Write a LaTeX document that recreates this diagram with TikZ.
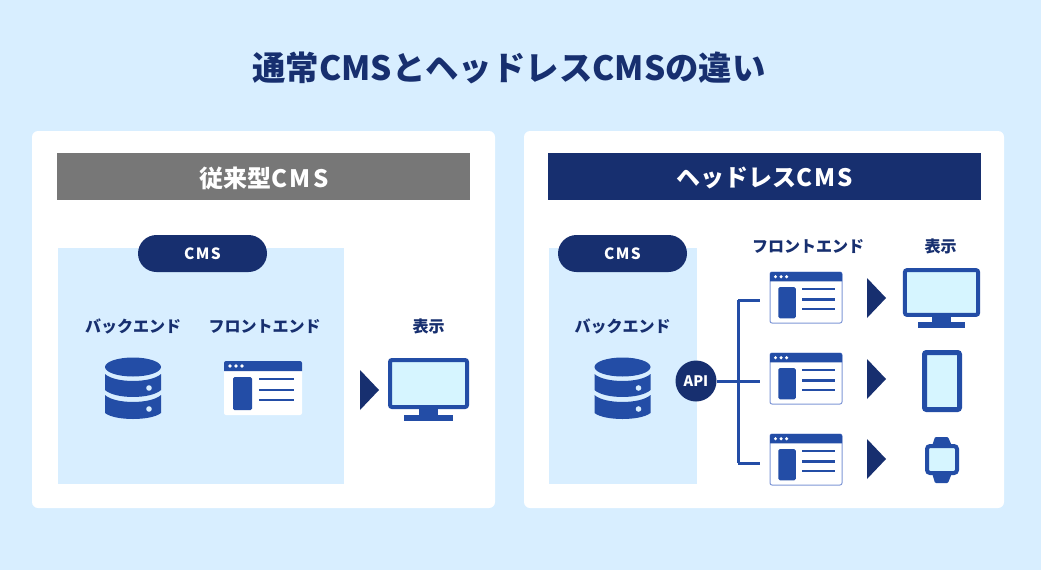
\documentclass[tikz,border=0pt]{standalone}
\usepackage{fontspec}
\setmainfont{Noto Sans CJK JP}
\definecolor{skyback}{HTML}{D8EEFF}
\definecolor{navy}{HTML}{172F6F}
\definecolor{iconblue}{HTML}{234DA6}
\definecolor{screenblue}{HTML}{D6F5FF}
\definecolor{framegray}{HTML}{777777}
\definecolor{frameblue}{HTML}{7F97D6}
\newcommand{\wideCMS}{{\addfontfeature{LetterSpace=9}CMS}}
\tikzset{
	card/.style = {fill=white, rounded corners=6pt, inner sep=0pt},
	header/.style = {inner sep=0pt, minimum height=47pt},
	headtext/.style = {text=white, inner sep=0pt, font=\bfseries\fontsize{24}{28}\selectfont},
	panel/.style = {fill=skyback, inner sep=0pt},
	pill/.style = {fill=navy, text=white, rounded corners=18.5pt, minimum width=129pt, minimum height=37pt, inner sep=0pt, font=\bfseries\fontsize{15.5}{18}\selectfont},
	label/.style = {text=navy, inner sep=0pt, font=\bfseries\fontsize{16}{18}\selectfont},
	frame/.style = {fill=white, rounded corners=2pt, inner sep=0pt},
	link/.style = {draw=iconblue, line width=3pt},
	pics/database/.style = {code={
		\fill[iconblue] (0,-21) ellipse [x radius=28, y radius=9.5];
		\fill[iconblue] (-28,-14) .. controls (-18,-4.7) and (18,-4.7) .. (28,-14) -- (28,2) .. controls (18,11.3) and (-18,11.3) .. (-28,2) -- cycle;
		\fill[iconblue] (-28,7) .. controls (-18,16.3) and (18,16.3) .. (28,7) -- (28,25) .. controls (18,33) and (-18,33) .. (-28,25) -- cycle;
		\fill[skyback] (16,0) circle [radius=2.8];
		\fill[skyback] (16,21) circle [radius=2.8];
	}},
	pics/browser/.style = {code={
		\fill[iconblue] (-39,-17) {[rounded corners=2pt] -- (-39,-27) -- (39,-27)} -- (39,-17) -- cycle;
		\foreach \dotx in {-33,-27,-21} \fill[white] (\dotx,-22) circle [radius=1.8];
		\fill[iconblue, rounded corners=1.5pt] (-30,-11) rectangle (-11,22);
		\foreach \liney in {-9,2,12} \draw[iconblue, line width=2.5pt] (-4,\liney) -- (31,\liney);
	}},
	pics/monitor/.style = {code={
		\draw[iconblue, fill=screenblue, line width=4pt, rounded corners=2pt] (-38.5,-23.5) rectangle (38.5,23.5);
		\fill[iconblue] (-9.5,25) rectangle (9.5,32);
		\fill[iconblue] (-24.5,31.5) rectangle (24.5,37.5);
	}},
	pics/playmark/.style = {code={
		\fill[navy] (-9.5,-20) -- (9.5,0) -- (-9.5,20) -- cycle;
	}}
}
\begin{document}
\begin{tikzpicture}[x=1pt, y=-1pt]
	\useasboundingbox (0,0) rectangle (1041,570);
	\fill[skyback] (0,0) rectangle (1041,570);
	\node[text=navy, inner sep=0pt, font=\bfseries\fontsize{33.4}{38}\selectfont] (title) at (509,68) {通常CMSとヘッドレスCMSの違い};
	\node[card, minimum width=463pt, minimum height=377pt] (oldcard) at (263.5,319.5) {};
	\node[card, minimum width=480pt, minimum height=377pt] (newcard) at (764,319.5) {};
	\node[header, fill=framegray, minimum width=413pt] (oldhead) at (263.5,176.5) {};
	\node[header, fill=navy, minimum width=433pt] (newhead) at (764.5,176.5) {};
	\node[headtext] (oldtext) at (264,178) {従来型\wideCMS};
	\node[headtext] (newtext) at (764.5,178) {ヘッドレス\wideCMS};

	\node[panel, minimum width=286pt, minimum height=236pt] (oldpanel) at (201,366) {};
	\node[pill] (oldcms) at (202.5,253.5) {\wideCMS};
	\node[label] (oldback) at (133,326.5) {バックエンド};
	\node[label] (oldfront) at (264.5,326.5) {フロントエンド};
	\node[label] (oldshow) at (428.5,326.5) {表示};
	\pic at (133,388) {database};
	\node[frame, minimum width=78pt, minimum height=54pt] (oldpage) at (263,388) {};
	\pic at (263,388) {browser};
	\pic at (369.5,390) {playmark};
	\pic at (428.5,383.5) {monitor};

	\node[panel, minimum width=148pt, minimum height=236pt] (newpanel) at (623,366) {};
	\node[pill] (newcms) at (622.5,253.5) {\wideCMS};
	\node[label] (newback) at (622.5,326.5) {バックエンド};
	\node[label] (newfront) at (808,246.5) {フロントエンド};
	\node[label] (newshow) at (940.5,246.5) {表示};
	\pic at (622.5,388) {database};

	\node[frame, draw=frameblue, line width=1pt, minimum width=72pt, minimum height=51pt] (page1) at (806,297.5) {};
	\node[frame, draw=frameblue, line width=1pt, minimum width=72pt, minimum height=51pt] (page2) at (806,378.5) {};
	\node[frame, draw=frameblue, line width=1pt, minimum width=72pt, minimum height=51pt] (page3) at (806,459.5) {};
	\foreach \pagey in {297.5,378.5,459.5} {
		\pic[xscale=.923, yscale=.944] at (806,\pagey) {browser};
	}
	\foreach \marky in {298,379,459} {
		\pic at (876.5,\marky) {playmark};
	}

	\node[circle, fill=navy, text=white, minimum size=41pt, inner sep=0pt, font=\bfseries\fontsize{14.5}{16}\selectfont] (api) at (696,381) {API};
	\coordinate (fork1) at (738,300);
	\coordinate (fork3) at (738,463);
	\draw[link] (fork1) -- (fork3);
	\draw[link, shorten >=10pt] (fork1) -- (fork1 -| page1.west);
	\draw[link, shorten >=10pt] (api) -- (api -| page2.west);
	\draw[link, shorten >=10pt] (fork3) -- (fork3 -| page3.west);

	\pic[scale=.95] at (941.5,292.5) {monitor};
	\draw[iconblue, fill=screenblue, line width=5pt, rounded corners=2pt] (924.5,352.5) rectangle (959.5,409.5);
	\fill[iconblue, rounded corners=1pt] (935,437) -- (948,437) -- (952,446) -- (952,473) -- (948,483) -- (935,483) -- (932,473) -- (932,446) -- cycle;
	\draw[iconblue, fill=screenblue, line width=4pt, rounded corners=3pt] (927,446) rectangle (957,473);
\end{tikzpicture}
\end{document}
